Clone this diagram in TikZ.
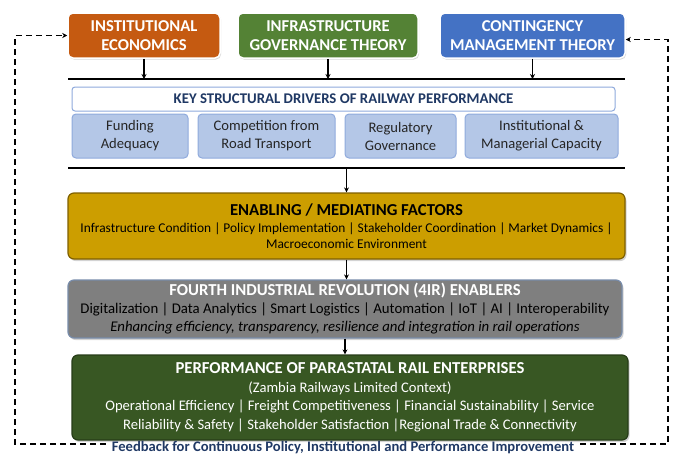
\documentclass[tikz,border=0pt]{standalone}
\usepackage{fontspec}
\setmainfont{Carlito}
\usetikzlibrary{arrows.meta, shadows}
\definecolor{instorange}{RGB}{197,90,17}
\definecolor{infragreen}{RGB}{84,130,53}
\definecolor{contblue}{RGB}{68,114,196}
\definecolor{driverfill}{RGB}{180,199,231}
\definecolor{driverline}{RGB}{143,170,220}
\definecolor{enablegold}{RGB}{204,158,0}
\definecolor{enableline}{RGB}{127,96,0}
\definecolor{irgray}{RGB}{127,127,127}
\definecolor{irline}{RGB}{120,140,170}
\definecolor{perfgreen}{RGB}{56,87,35}
\definecolor{perfline}{RGB}{38,60,24}
\definecolor{navy}{RGB}{31,56,100}
\tikzstyle{theory} = [rectangle, rounded corners=5pt, draw=white, line width=1.5pt,
                      text=white, align=center, minimum height=45pt,
                      font=\bfseries\fontsize{16.6}{19}\selectfont,
                      drop shadow={opacity=0.3, shadow xshift=1pt, shadow yshift=-1.5pt}]
\tikzstyle{driver} = [rectangle, rounded corners=4pt, draw=driverline, line width=1pt,
                      fill=driverfill, align=center, minimum height=44pt,
                      font=\fontsize{14.6}{18}\selectfont, text=black!85]
\tikzstyle{layer} = [rectangle, rounded corners=6pt, line width=1.2pt, align=center,
                     drop shadow={opacity=0.35, shadow xshift=1.5pt, shadow yshift=-2pt}]
\tikzstyle{arrow} = [line width=1.3pt,-{Stealth[length=5pt,width=5pt]}]
\tikzstyle{feedback} = [line width=1.3pt, dash pattern=on 6pt off 4pt,
                        -{Stealth[length=5pt,width=5pt]}]
\newcommand{\ttl}{\bfseries\fontsize{16.7}{18}\selectfont}

\begin{document}
\begin{tikzpicture}[x=1pt, y=-1pt]
        \useasboundingbox (0,0) rectangle (678,456);

        % theories
        \node (inst) [theory, fill=instorange, minimum width=152pt] at (144,35.5) {INSTITUTIONAL\\ECONOMICS};
        \node (infra) [theory, fill=infragreen, minimum width=180pt] at (328,35.5) {INFRASTRUCTURE\\GOVERNANCE THEORY};
        \node (cont) [theory, fill=contblue, minimum width=185pt] at (532.5,35.5) {CONTINGENCY\\MANAGEMENT THEORY};

        % rules round the drivers
        \coordinate (topL) at (68,79);
        \coordinate (topR) at (625,79);
        \coordinate (botL) at (68,168);
        \coordinate (botR) at (625,168);
        \draw [line width=2pt] (topL) -- (topR);
        \draw [line width=2pt] (botL) -- (botR);

        \draw [arrow] (inst.south) -- (inst.south |- topL);
        \draw [arrow] (infra.south) -- (infra.south |- topL);
        \draw [arrow] (cont.south) -- (cont.south |- topL);

        % drivers
        \node (head) [rectangle, rounded corners=3pt, draw=driverline, line width=1pt, fill=white,
                      minimum width=543pt, minimum height=24pt, text=navy,
                      font=\bfseries\fontsize{14.8}{17}\selectfont] at (343.5,99)
              {KEY STRUCTURAL DRIVERS OF RAILWAY PERFORMANCE};
        \node (fund) [driver, minimum width=116pt] at (130,136) {Funding\\Adequacy};
        \node (comp) [driver, minimum width=137pt] at (266.5,136) {Competition from\\Road Transport};
        \node (reg) [driver, minimum width=111pt] at (400.5,136) {Regulatory\\Governance};
        \node (capa) [driver, minimum width=153pt] at (541.5,136) {Institutional \&\\Managerial Capacity};

        % layers
        \node (enab) [layer, fill=enablegold, draw=enableline, minimum width=557pt, minimum height=66pt,
                      text=black, font=\fontsize{13.4}{16}\selectfont] at (346.5,226)
              {{\ttl ENABLING / MEDIATING FACTORS}\\[1pt]
               Infrastructure Condition | Policy Implementation | Stakeholder Coordination | Market Dynamics |\\
               Macroeconomic Environment};
        \node (ir) [layer, fill=irgray, draw=irline, minimum width=554pt, minimum height=58pt,
                    text=black, font=\fontsize{14.8}{18}\selectfont] at (345,309)
              {{\ttl\color{white} FOURTH INDUSTRIAL REVOLUTION (4IR) ENABLERS}\\
               Digitalization | Data Analytics | Smart Logistics | Automation | IoT | AI | Interoperability\\
               {\itshape Enhancing efficiency, transparency, resilience and integration in rail operations}};
        \node (perf) [layer, fill=perfgreen, draw=perfline, minimum width=556pt, minimum height=85pt,
                      text=white, font=\fontsize{14.6}{18.5}\selectfont] at (350,397.5)
              {{\ttl PERFORMANCE OF PARASTATAL RAIL ENTERPRISES}\\
               (Zambia Railways Limited Context)\\
               Operational Efficiency | Freight Competitiveness | Financial Sustainability | Service\\
               Reliability \& Safety | Stakeholder Satisfaction |Regional Trade \& Connectivity};

        \draw [arrow] (enab.north |- botL) -- (enab.north);
        \draw [arrow] (enab.south) -- (ir.north -| enab.south);
        \draw [arrow] (ir.south) -- (perf.north -| ir.south);

        % feedback loop
        \coordinate (fbL) at (15,444);
        \coordinate (fbR) at (668,444);
        \node (fb) [text=navy, font=\bfseries\fontsize{14.6}{17}\selectfont, inner xsep=6pt] at (343,447.5)
              {Feedback for Continuous Policy, Institutional and Performance Improvement};
        \draw [feedback] (fb.west |- fbL) -- (fbL) |- (inst.west);
        \draw [feedback] (fb.east |- fbR) -- (fbR) |- ([yshift=-4pt]cont.east);

    \end{tikzpicture}
\end{document}
